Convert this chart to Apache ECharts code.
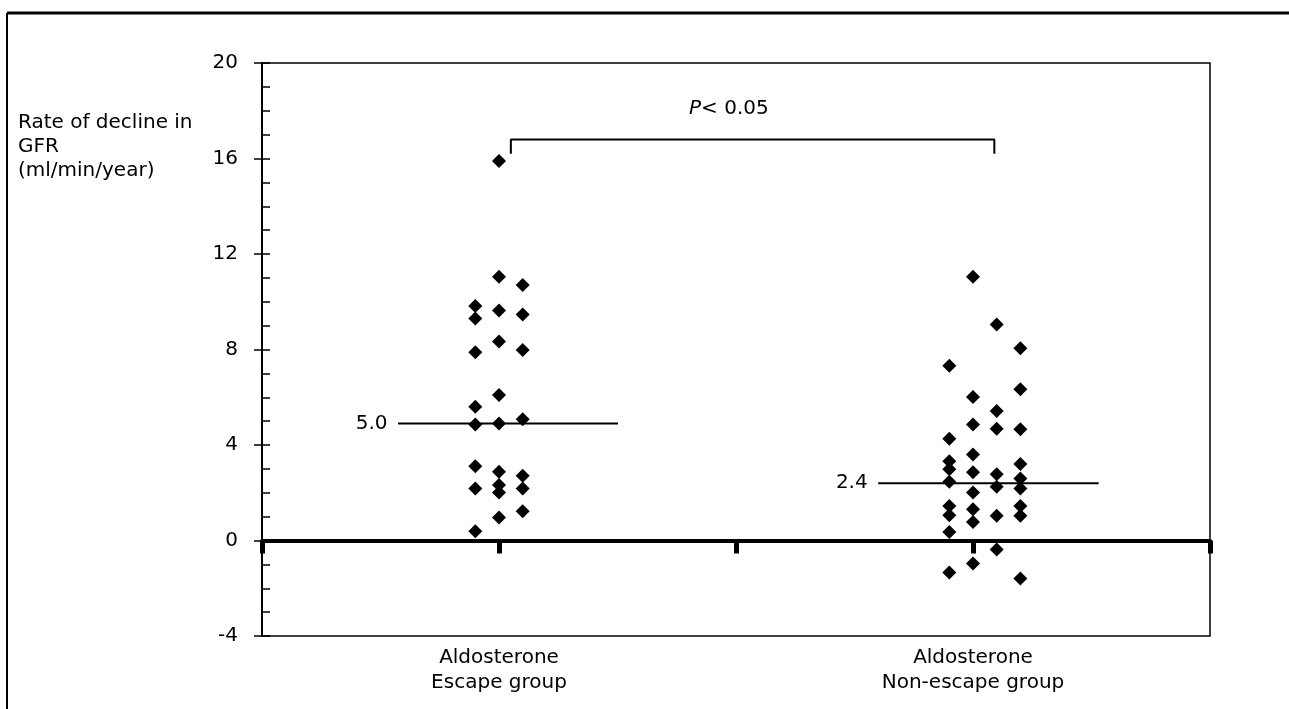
<!DOCTYPE html>
<html>
<head>
<meta charset="utf-8">
<script src="https://cdn.jsdelivr.net/npm/echarts@6/dist/echarts.min.js"></script>
<style>
html,body{margin:0;padding:0;background:#fff;}
#chart{width:1289px;height:709px;}
</style>
</head>
<body>
<div id="chart"></div>
<script>
// ---- data ----
const groupNames = ['Aldosterone\nEscape group', 'Aldosterone\nNon-escape group'];
const groupPositions = [1, 3];
// [jitter column, rate of decline in GFR]
const escapePoints = [
  [0,15.9],[0,11.05],[1,10.7],[-1,9.82],[-1,9.3],[0,9.63],[1,9.47],[0,8.33],[-1,7.89],[1,7.98],
  [0,6.09],[-1,5.6],[-1,4.86],[0,4.9],[1,5.08],[-1,3.11],[0,2.88],[1,2.71],[-1,2.18],[0,2.32],
  [0,2.01],[1,2.18],[0,0.96],[1,1.23],[-1,0.39]
];
const nonEscapePoints = [
  [0,11.05],[1,9.05],[2,8.05],[-1,7.32],[2,6.33],[0,6.01],[1,5.42],[0,4.86],[1,4.68],[2,4.66],
  [-1,4.26],[0,3.6],[-1,3.32],[-1,2.98],[0,2.86],[1,2.78],[2,3.2],[-1,2.46],[1,2.25],[2,2.6],
  [2,2.18],[0,2.01],[-1,1.45],[-1,1.06],[0,1.31],[0,0.78],[1,1.04],[2,1.45],[2,1.04],[-1,0.36],
  [1,-0.38],[0,-0.96],[-1,-1.34],[2,-1.59]
];
const centralValues = [4.9, 2.4];
const centralLabels = ['5.0', '2.4'];
const pText = '{i|P}< 0.05';
const yTicks = [-4, 0, 4, 8, 12, 16, 20];
const yAxisTitle = 'Rate of decline in\nGFR\n(ml/min/year)';

// ---- layout constants ----
const jitter = 0.1;
const lineSpan = [[-0.426, 0.502], [-0.4, 0.53]];
const bracket = {x1: 1.05, x2: 3.09, yTop: 16.8, yBottom: 16.2};
const pPos = [1.97, 18.1];
const FONT = 'DejaVu Sans, Verdana, sans-serif';

const chart = echarts.init(document.getElementById('chart'));

function toXY(points, g) {
  return points.map(p => [groupPositions[g] + p[0] * jitter, p[1]]);
}

const series = [];
[escapePoints, nonEscapePoints].forEach((pts, g) => {
  series.push({
    type: 'scatter', xAxisIndex: 0, yAxisIndex: 0,
    data: toXY(pts, g), symbol: 'diamond', symbolSize: [14, 14],
    itemStyle: {color: '#000', opacity: 1}, z: 5, silent: true
  });
  const x0 = groupPositions[g] + lineSpan[g][0], x1 = groupPositions[g] + lineSpan[g][1];
  series.push({
    type: 'line', xAxisIndex: 0, yAxisIndex: 0, symbol: 'none', silent: true,
    lineStyle: {color: '#000', width: 2}, z: 4,
    data: [[x0, centralValues[g]], [x1, centralValues[g]]]
  });
  series.push({
    type: 'scatter', xAxisIndex: 0, yAxisIndex: 0, symbolSize: 1, silent: true,
    itemStyle: {color: 'rgba(0,0,0,0)', opacity: 1},
    data: [[x0, centralValues[g]]],
    label: {show: true, position: 'left', distance: 10, formatter: centralLabels[g], color: '#000', fontSize: 20, fontFamily: FONT}
  });
});
series.push({
  type: 'line', xAxisIndex: 0, yAxisIndex: 0, symbol: 'none', silent: true,
  lineStyle: {color: '#000', width: 2},
  data: [[bracket.x1, bracket.yBottom], [bracket.x1, bracket.yTop], [bracket.x2, bracket.yTop], [bracket.x2, bracket.yBottom]]
});
series.push({
  type: 'scatter', xAxisIndex: 0, yAxisIndex: 0, symbolSize: 1, silent: true,
  itemStyle: {color: 'rgba(0,0,0,0)', opacity: 1},
  data: [pPos],
  label: {show: true, position: 'inside', formatter: pText, color: '#000', fontSize: 20, fontFamily: FONT,
    rich: {i: {fontStyle: 'italic', fontSize: 20, fontFamily: FONT, color: '#000'}}}
});

chart.setOption({
  animation: false,
  backgroundColor: '#fff',
  grid: {left: 262, right: 79, top: 63, bottom: 73, show: true, borderColor: '#000', borderWidth: 1.5, backgroundColor: 'transparent'},
  xAxis: [
    {
      type: 'value', min: 0, max: 4, interval: 1, position: 'bottom',
      axisLine: {show: true, onZero: true, lineStyle: {color: '#000', width: 4}},
      axisTick: {show: true, inside: false, length: 13, lineStyle: {color: '#000', width: 5}},
      axisLabel: {show: false}, splitLine: {show: false}
    },
    {
      type: 'value', min: 0, max: 4, interval: 1, position: 'bottom',
      axisLine: {show: false, onZero: false},
      axisTick: {show: false}, splitLine: {show: false},
      axisLabel: {
        show: true, margin: 9, color: '#000', fontSize: 20, fontFamily: FONT, lineHeight: 25, align: 'center',
        formatter: v => { const i = groupPositions.indexOf(v); return i >= 0 ? groupNames[i] : ''; }
      }
    }
  ],
  yAxis: [
    {
      type: 'value', min: yTicks[0], max: yTicks[yTicks.length - 1], interval: 4, position: 'left',
      axisLine: {show: true, lineStyle: {color: '#000', width: 2}},
      axisTick: {show: true, inside: false, length: 8, lineStyle: {color: '#000', width: 1.5}},
      axisLabel: {show: true, margin: 24, color: '#000', fontSize: 20, fontFamily: FONT},
      splitLine: {show: false}
    },
    {
      type: 'value', min: yTicks[0], max: yTicks[yTicks.length - 1], interval: 4, position: 'left', offset: 0,
      axisLine: {show: false},
      axisTick: {show: true, inside: true, length: 8, lineStyle: {color: '#000', width: 1.5}},
      minorTick: {show: true, splitNumber: 4, length: 8, lineStyle: {color: '#000', width: 1.5}},
      axisLabel: {show: false}, splitLine: {show: false}
    }
  ],
  graphic: [
    {type: 'line', shape: {x1: 7, y1: 13, x2: 1289, y2: 13}, style: {stroke: '#000', lineWidth: 3}},
    {type: 'line', shape: {x1: 7, y1: 13, x2: 7, y2: 709}, style: {stroke: '#000', lineWidth: 2}},
    {type: 'text', left: 18, top: 111, style: {text: yAxisTitle, fill: '#000', font: '20px ' + FONT, lineHeight: 24}}
  ],
  series: series
});
</script>
</body>
</html>
